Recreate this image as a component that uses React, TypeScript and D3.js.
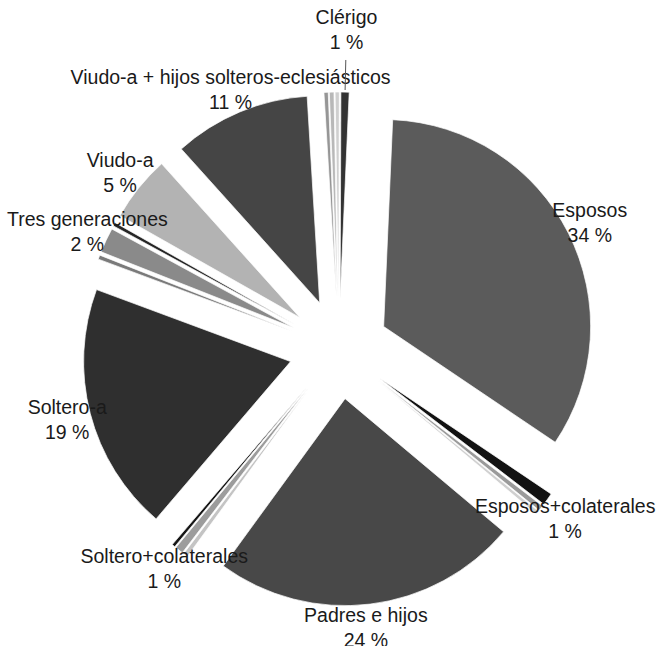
import React from "react";
import * as d3 from "d3";

// Household types (percent of households), clockwise from 12 o'clock after a small offset
const categories = [
  "Esposos",
  "Esposos+colaterales",
  "",
  "",
  "Padres e hijos",
  "",
  "Soltero+colaterales",
  "",
  "Soltero-a",
  "",
  "Tres generaciones",
  "",
  "Viudo-a",
  "Viudo-a + hijos solteros-eclesiásticos",
  "",
  "",
  "",
  "Clérigo",
];

const values = [
  33.75, 0.97, 0.42, 0.28, 23.89, 0.36, 0.64, 0.25, 19.39, 0.33, 1.94, 0.28,
  5.14, 10.69, 0.33, 0.36, 0.33, 0.64,
];

const colors = [
  "#5b5b5b", "#121212", "#9a9a9a", "#d0d0d0", "#484848", "#c4c4c4", "#9c9c9c",
  "#151515", "#2f2f2f", "#7a7a7a", "#8a8a8a", "#262626", "#b3b3b3", "#454545",
  "#969696", "#b8b8b8", "#cfcfcf", "#333333",
];

const W = 656;
const H = 646;
const CX = 339;
const CY = 349;
const R = 207;
const EXPLODE = 50;
const START_DEG = 2.5;
const LABEL_K = 1.115;
const labelKOverride: Record<string, number> = {
  "Clérigo": 1.3,
  "Esposos+colaterales": 1.125,
  "Tres generaciones": 1.1,
};
const labelAngleNudgeDeg: Record<string, number> = {
  "Padres e hijos": 1.8,
  "Esposos+colaterales": 1.4,
};
const leaderLabels = new Set(["Clérigo"]);
const FONT_SIZE = 19.5;

export default function App() {
  const start = (START_DEG * Math.PI) / 180;
  const pie = d3
    .pie<number>()
    .sort(null)
    .value((d) => d)
    .startAngle(start)
    .endAngle(start + 2 * Math.PI);
  const arcs = pie(values);
  const arc = d3
    .arc<d3.PieArcDatum<number>>()
    .innerRadius(0)
    .outerRadius(R);

  const items = arcs.map((a, i) => {
    const mid = (a.startAngle + a.endAngle) / 2;
    const ux = Math.sin(mid);
    const uy = -Math.cos(mid);
    const ox = CX + EXPLODE * ux;
    const oy = CY + EXPLODE * uy;
    return { a, i, mid, ux, uy, ox, oy };
  });

  const font = "'Liberation Sans', Arial, Helvetica, sans-serif";

  return (
    <svg
      width={W}
      height={H}
      viewBox={`0 0 ${W} ${H}`}
      style={{ position: "absolute", left: 0, top: 0, background: "#fff" }}
    >
      <rect x={0} y={0} width={W} height={H} fill="#fff" />
      {items.map(({ a, i, ox, oy }) => (
        <path
          key={"s" + i}
          d={arc(a) || ""}
          transform={`translate(${ox},${oy})`}
          fill={colors[i]}
          stroke="#ffffff"
          strokeWidth={0.7}
        />
      ))}
      {items
        .filter(({ i }) => categories[i] !== "")
        .map(({ i, mid, ux, uy, ox, oy }) => {
          const name = categories[i];
          const k = labelKOverride[name] ?? LABEL_K;
          const la = mid + ((labelAngleNudgeDeg[name] ?? 0) * Math.PI) / 180;
          const lx = ox + Math.sin(la) * R * k;
          const ly = oy - Math.cos(la) * R * k;
          const leader = leaderLabels.has(name);
          return (
            <g key={"l" + i}>
              {leader && (
                <line
                  x1={ox + ux * R * 1.01}
                  y1={oy + uy * R * 1.01}
                  x2={ox + ux * R * 1.155}
                  y2={oy + uy * R * 1.155}
                  stroke="#555"
                  strokeWidth={1}
                />
              )}
              <text
                x={lx}
                y={ly}
                textAnchor="middle"
                fontFamily={font}
                fontSize={FONT_SIZE}
                fill="#1a1a1a"
              >
                <tspan x={lx} y={ly - 6}>
                  {name}
                </tspan>
                <tspan x={lx} y={ly + 19}>
                  {`${Math.round(values[i])} %`}
                </tspan>
              </text>
            </g>
          );
        })}
    </svg>
  );
}
